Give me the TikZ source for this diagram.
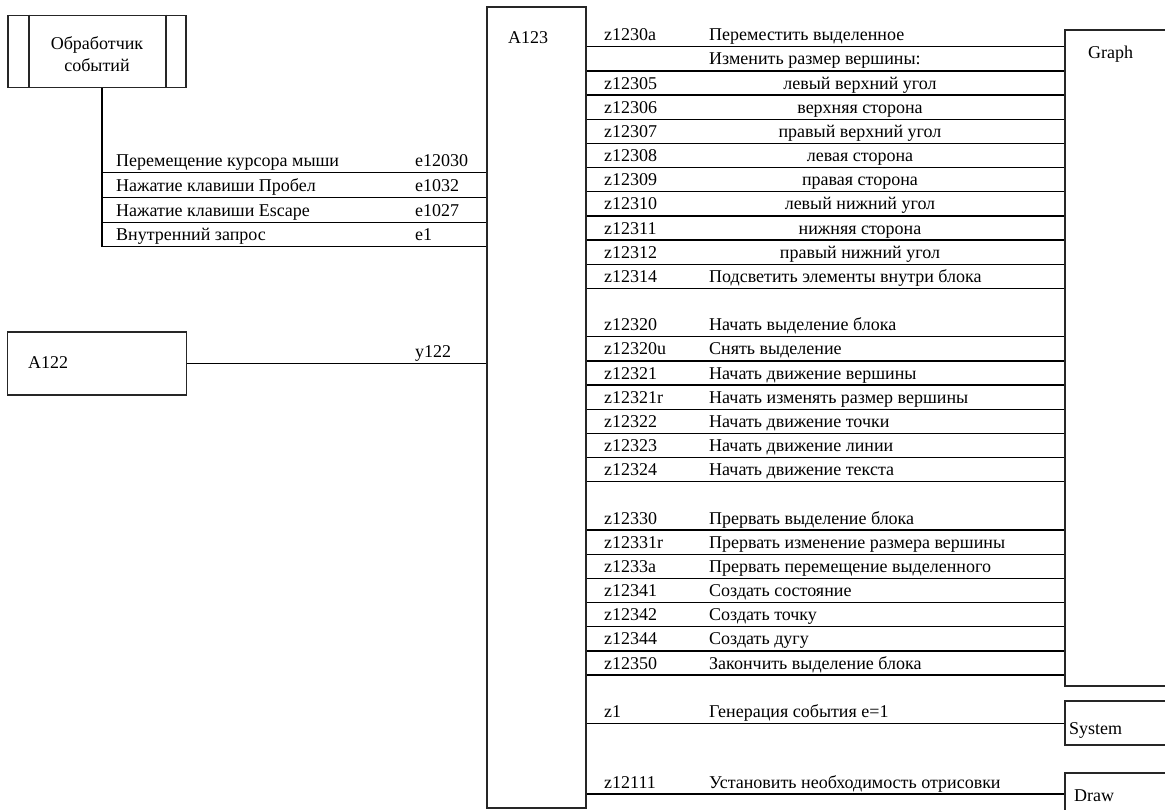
\documentclass[tikz,border=0pt]{standalone}
\usepackage{fontspec}
\setmainfont{Liberation Serif}
\begin{document}
\begin{tikzpicture}[x=1pt,y=-1pt,
  font=\fontsize{18}{22}\selectfont,
  box/.style={draw=black!85, line width=1.8pt, inner sep=0pt, rectangle},
  wire/.style={line width=1.4pt},
  lbl/.style={anchor=base west, inner sep=0pt},
  clbl/.style={anchor=base, inner sep=0pt}]
\useasboundingbox (0,0) rectangle (1165,810);
\clip (0,0) rectangle (1165,810);
% boxes
\node[box, minimum width=178pt, minimum height=72pt] (handler) at (97,51.5) {};
\draw[line width=1.8pt, black!85] ([xshift=22pt]handler.north west) -- ([xshift=22pt]handler.south west);
\draw[line width=1.8pt, black!85] ([xshift=-21pt]handler.north east) -- ([xshift=-21pt]handler.south east);
\node[align=center, inner sep=0pt] (handlertxt) at (97,54) {Обработчик\\событий};
\node[box, minimum width=179pt, minimum height=63pt] (A122) at (97,363.3) {};
\node[lbl] (A122t) at (28,369) {A122};
\node[box, minimum width=99pt, minimum height=801pt] (A123) at (536.5,407.5) {};
\node[lbl] (A123t) at (508,44) {A123};
\node[box, minimum width=200pt, minimum height=656pt] (Graph) at (1165,358) {};
\node[lbl] (Grapht) at (1088,59) {Graph};
\node[box, minimum width=200pt, minimum height=44pt] (System) at (1165,723) {};
\node[lbl] (Systemt) at (1069,734) {System};
\node[box, minimum width=200pt, minimum height=80pt] (Draw) at (1165,813) {};
\node[lbl] (Drawt) at (1074,801) {Draw};
% left table
\coordinate (tabtop) at (102,172.3);
\coordinate (tabbot) at (102,246.8);
\draw[wire] ([xshift=5pt]handler.south) -- (tabbot);
\foreach \y in {172.3,197.5,222.3,246.8}
  \draw[wire] (102,\y) -- (A123.west |- 0,\y);
\foreach \y/\t/\c in {172.3/Перемещение курсора мыши/e12030, 197.5/Нажатие клавиши Пробел/e1032, 222.3/Нажатие клавиши Escape/e1027, 246.8/Внутренний запрос/e1}{
  \node[lbl] at (116,\y-6) {\t};
  \node[lbl] at (415,\y-6) {\c};
}
% A122 -> A123
\draw[wire] (A122.east) -- (A123.west |- A122.east);
\node[lbl] (y122) at (415,357) {y122};
% right table lines
\foreach \k in {0,...,10,12,13,...,18,20,21,...,26}{
  \pgfmathsetmacro\yy{46.7+24.17*\k}
  \draw[wire] (A123.east |- 0,\yy) -- (Graph.west |- 0,\yy);
}
\draw[wire] (A123.east |- 0,723.5) -- (System.west |- 0,723.5);
\draw[wire] (A123.east |- 0,794) -- (Draw.west |- 0,794);
% right table texts
\foreach \k/\c/\d in {0/z1230a/Переместить выделенное, 1//Изменить размер вершины:,
  10/z12314/Подсветить элементы внутри блока,
  12/z12320/Начать выделение блока, 13/z12320u/Снять выделение,
  14/z12321/Начать движение вершины, 15/z12321r/Начать изменять размер вершины,
  16/z12322/Начать движение точки, 17/z12323/Начать движение линии,
  18/z12324/Начать движение текста,
  20/z12330/Прервать выделение блока, 21/z12331r/Прервать изменение размера вершины,
  22/z1233a/Прервать перемещение выделенного, 23/z12341/Создать состояние,
  24/z12342/Создать точку, 25/z12344/Создать дугу, 26/z12350/Закончить выделение блока,
  28/z1/Генерация события e=1}{
  \pgfmathsetmacro\yy{46.7+24.17*\k-6}
  \node[lbl] at (604,\yy) {\c};
  \node[lbl] at (709,\yy) {\d};
}
\foreach \k/\c/\d in {2/z12305/левый верхний угол, 3/z12306/верхняя сторона,
  4/z12307/правый верхний угол, 5/z12308/левая сторона, 6/z12309/правая сторона,
  7/z12310/левый нижний угол, 8/z12311/нижняя сторона, 9/z12312/правый нижний угол}{
  \pgfmathsetmacro\yy{46.7+24.17*\k-6}
  \node[lbl] at (604,\yy) {\c};
  \node[clbl] at (860,\yy) {\d};
}
\node[lbl] at (604,788) {z12111};
\node[lbl] at (709,788) {Установить необходимость отрисовки};
\end{tikzpicture}
\end{document}
